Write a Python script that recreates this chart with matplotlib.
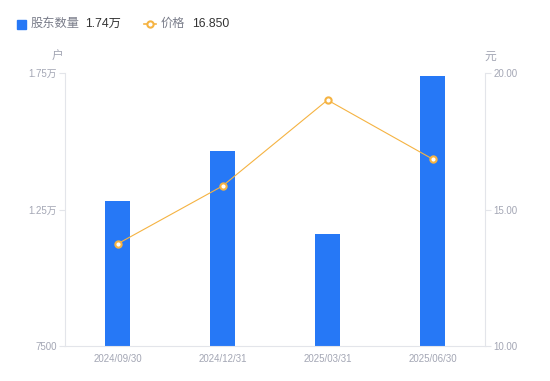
import matplotlib.pyplot as plt
from matplotlib.lines import Line2D
from matplotlib.patches import Rectangle

plt.rcParams['font.family'] = ['Liberation Sans', 'Noto Sans CJK SC', 'DejaVu Sans']

# data
dates = ['2024/09/30', '2024/12/31', '2025/03/31', '2025/06/30']
holders = [12810, 14640, 11600, 17400]   # 股东数量 (户)
price = [13.74, 15.86, 19.01, 16.85]      # 价格 (元)

left_ticks = [7500, 12500, 17500]
left_labels = ['7500', '1.25万', '1.75万']
right_ticks = [10, 15, 20]
right_labels = ['10.00', '15.00', '20.00']

bar_color = '#2678F6'
line_color = '#F5B342'
axis_color = '#E3E5EA'
tick_text = '#A3A6B4'

fig = plt.figure(figsize=(5.5, 3.81), dpi=100)
ax = fig.add_axes([65/550, 35/381, 420/550, 273/381])
ax2 = ax.twinx()

x = list(range(len(dates)))
ax.bar(x, holders, width=0.24, color=bar_color, zorder=2)
ax.set_ylim(7500, 17500)
ax.set_xlim(-0.5, 3.5)
ax.set_yticks(left_ticks)
ax.set_yticklabels(left_labels)
ax.set_xticks(x)
ax.set_xticklabels(dates)

ax2.plot(x, price, color=line_color, lw=0.8, marker='o', ms=4.5,
         mfc='white', mec=line_color, mew=1.5, zorder=3)
ax2.set_ylim(10, 20)
ax2.set_yticks(right_ticks)
ax2.set_yticklabels(right_labels)

for a in (ax, ax2):
    for s in a.spines.values():
        s.set_visible(False)
    a.tick_params(colors=axis_color, labelcolor=tick_text, labelsize=7, length=4, width=0.8)
ax.spines['left'].set_visible(True)
ax.spines['left'].set_color(axis_color)
ax.spines['bottom'].set_visible(True)
ax.spines['bottom'].set_color(axis_color)
ax2.spines['right'].set_visible(True)
ax2.spines['right'].set_color(axis_color)
ax.tick_params(axis='x', length=0, pad=6)
ax.tick_params(axis='y', pad=2)
ax2.tick_params(axis='y', pad=2)

fig.text(58/550, 1 - 57/381, '户', fontsize=8.5, color=tick_text, ha='center', va='center')
fig.text(490/550, 1 - 57/381, '元', fontsize=8.5, color=tick_text, ha='center', va='center')

# legend row
ly = 1 - 24/381
fig.patches.append(Rectangle((17/550, ly - 4.5/381), 9/550, 9/381, transform=fig.transFigure,
                             color=bar_color))
fig.text(31/550, ly, '股东数量', fontsize=8.8, color='#7A7D8A', va='center')
fig.text(85/550, ly, '1.74万', fontsize=8.8, color='#333333', va='center')
fig.lines.append(Line2D([144/550, 156/550], [ly, ly], transform=fig.transFigure,
                        color=line_color, lw=1.2))
fig.lines.append(Line2D([150/550], [ly], transform=fig.transFigure, marker='o', ms=4.5,
                        mfc='white', mec=line_color, mew=1.5))
fig.text(161/550, ly, '价格', fontsize=8.8, color='#7A7D8A', va='center')
fig.text(192/550, ly, '16.850', fontsize=8.8, color='#333333', va='center')

fig.savefig('out.png', dpi=100)
